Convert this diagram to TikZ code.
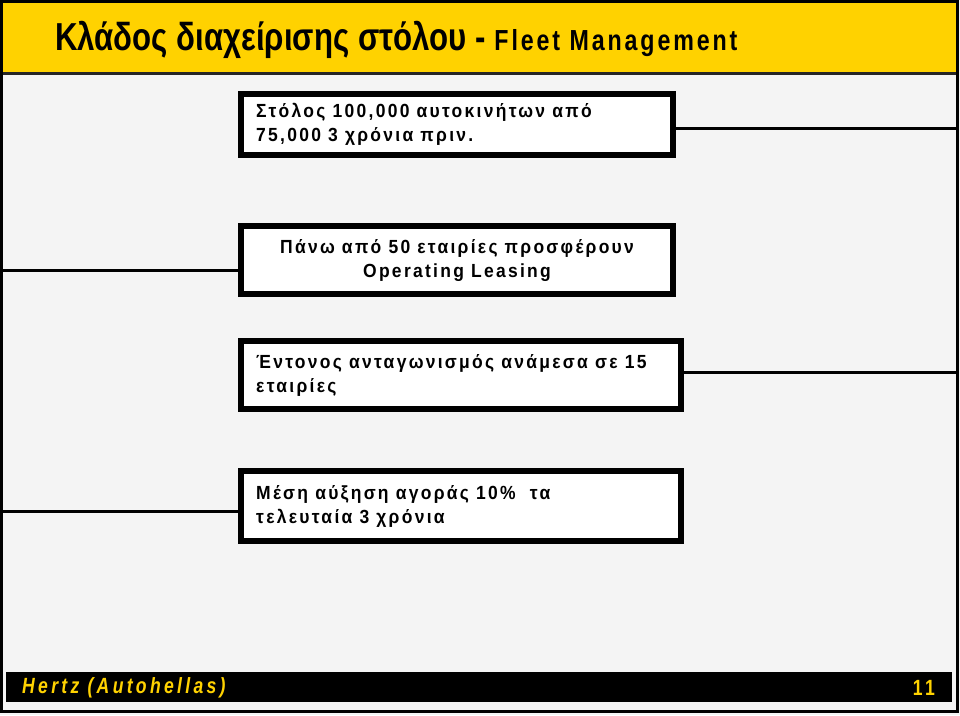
\documentclass[tikz,border=0pt]{standalone}
\usepackage{fontspec}
\setmainfont{Liberation Sans}
\newfontfamily\narrowf[FakeStretch=0.8]{Liberation Sans}
\newfontfamily\boxf[FakeStretch=0.92,LetterSpace=12]{Liberation Sans}
\definecolor{ttl}{HTML}{FFD200}
\definecolor{bg}{HTML}{F4F4F4}
\begin{document}
\begin{tikzpicture}[x=1pt,y=-1pt,
  boxs/.style={draw=black,line width=6pt,fill=white,inner sep=0pt},
  txt/.style={anchor=north west,align=left,font=\boxf\bfseries\fontsize{19}{24}\selectfont},
  conn/.style={line width=3pt}]
\useasboundingbox (0,0) rectangle (960,715);
\fill[bg] (0,0) rectangle (960,715);
\draw[line width=3pt] (1.5,1.5) rectangle (957,711);
\fill[ttl] (3,3) rectangle (956,72);
\draw[line width=3pt,black!85] (3,73.5) -- (956,73.5);
\node[anchor=west,inner sep=0pt,font=\narrowf\bfseries\fontsize{39}{39}\selectfont] (title) at (55,40) {Κλάδος διαχείρισης στόλου - {\fontsize{29}{29}\selectfont\addfontfeature{LetterSpace=10}Fleet Management}};
\fill[black] (6,672) rectangle (952,702);
\node[anchor=west,inner sep=0pt,text=ttl,font=\narrowf\bfseries\itshape\fontsize{22}{22}\selectfont\addfontfeature{LetterSpace=15}] (ft) at (22,688) {Hertz (Autohellas)};
\node[anchor=east,inner sep=0pt,text=ttl,font=\narrowf\bfseries\fontsize{22}{22}\selectfont\addfontfeature{LetterSpace=15}] (pg) at (935,688) {11};
% boxes
\draw[boxs] (241,94) rectangle (673,155);
\node[txt,inner sep=0pt] (t1) at (256,103) {Στόλος 100,000 αυτοκινήτων από\\75,000 3 χρόνια πριν.};
\draw[boxs] (241,226) rectangle (673,294);
\node[txt,inner sep=0pt,anchor=north,align=center] (t2) at (457,239) {Πάνω από 50 εταιρίες προσφέρουν\\Operating Leasing};
\draw[boxs] (241,341) rectangle (681,409);
\node[txt,inner sep=0pt] (t3) at (256,354) {Έντονος ανταγωνισμός ανάμεσα σε 15\\εταιρίες};
\draw[boxs] (241,471) rectangle (681,541);
\node[txt,inner sep=0pt] (t4) at (256,485) {Μέση αύξηση αγοράς 10\%\ \ τα\\τελευταία 3 χρόνια};
\coordinate (r1) at (957,128); \coordinate (l2) at (2,270);
\coordinate (r3) at (957,372); \coordinate (l4) at (2,511);
\draw[conn] (676,128) -- (r1);
\draw[conn] (l2) -- (238,270);
\draw[conn] (684,372) -- (r3);
\draw[conn] (l4) -- (238,511);
\end{tikzpicture}
\end{document}
